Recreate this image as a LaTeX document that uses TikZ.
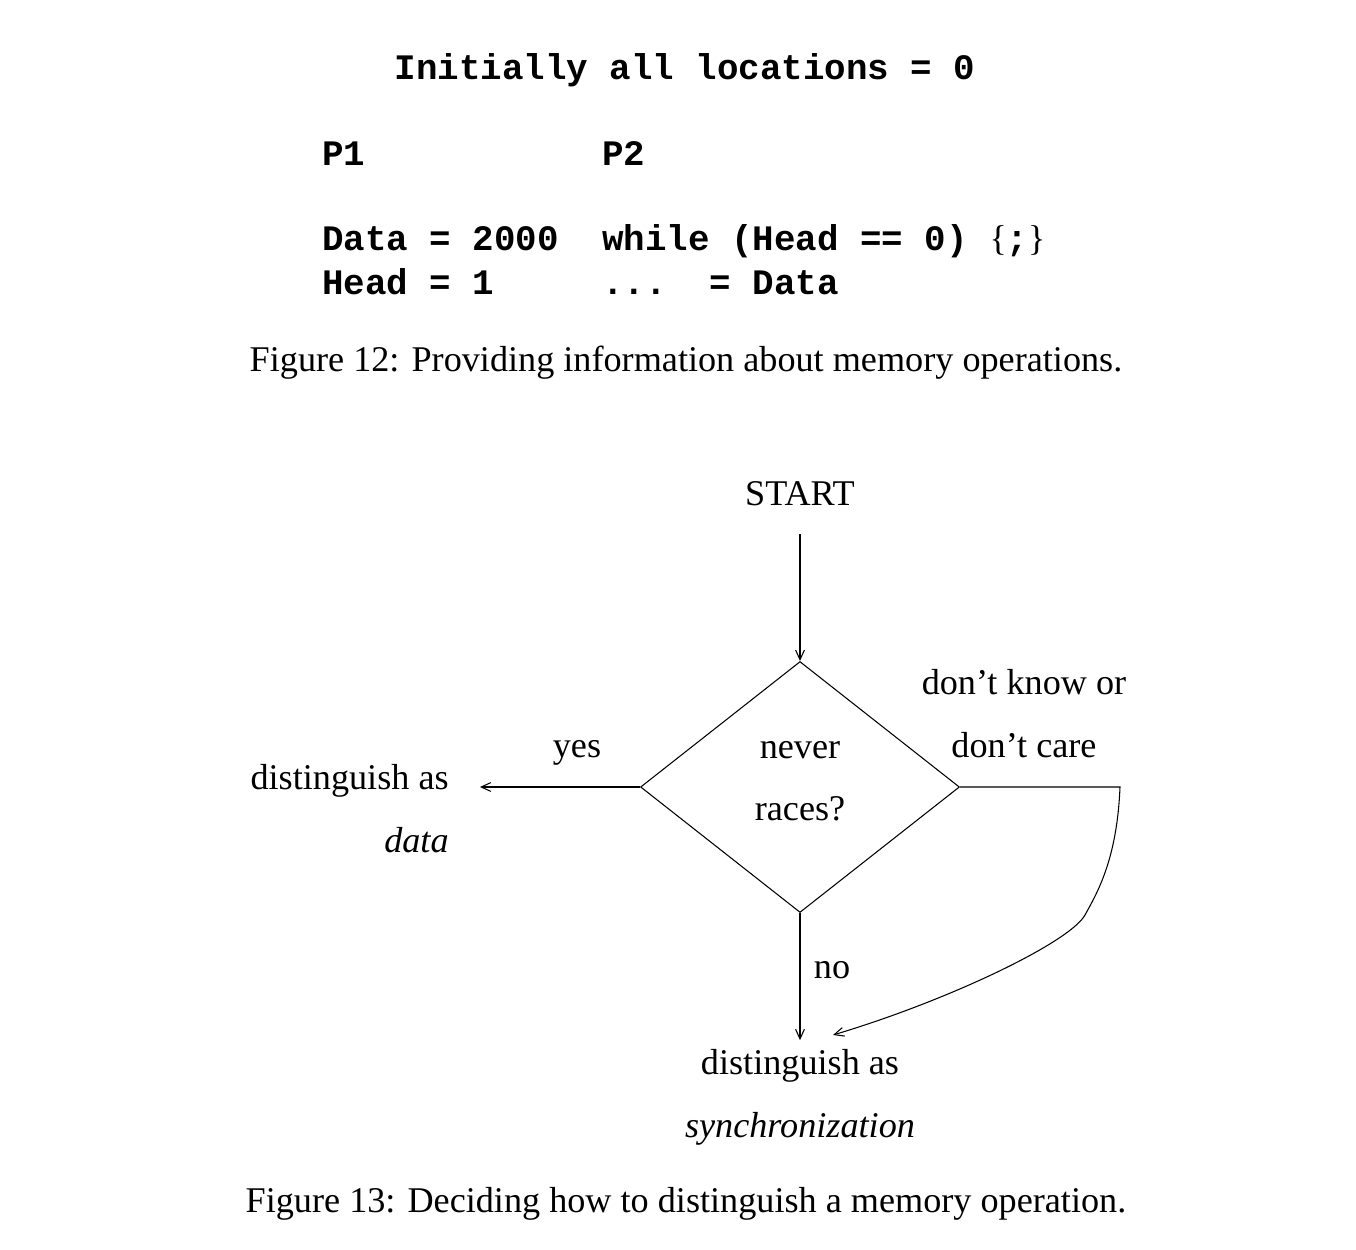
\documentclass[tikz,border=0pt]{standalone}
\usepackage{fontspec}
\setmainfont{Liberation Serif}
\setmonofont{Liberation Mono}
\usepackage{tikz}
\usetikzlibrary{shapes.geometric,arrows.meta}

\begin{document}
\begin{tikzpicture}
[
	x=0.02cm, y=-0.02cm,
	txt/.style={anchor=base, inner sep=0pt, font=\fontsize{20.6}{35.7}\selectfont},
	code/.style={anchor=base west, inner sep=0pt, font=\fontsize{20.4}{24}\selectfont\ttfamily\bfseries},
	flow/.style={line width=0.6pt, -{Straight Barb[length=5.5pt,width=5pt]}},
	decision/.style={draw, diamond, line width=0.6pt, inner sep=0pt, minimum width=6.38cm, minimum height=5.02cm, align=center, font=\fontsize{20.6}{35.7}\selectfont}
]

\useasboundingbox (0,0) rectangle (1356,1250);

% Draw program of figure 12
\node[code, anchor=base] (init) at (685,80) {Initially all locations = 0};
\node[code] (p1) at (322,166) {P1};
\node[code] (p2) at (602,166) {P2};
\node[code] (writedata) at (322,251) {Data = 2000};
\node[code] (writehead) at (322,295) {Head = 1};
\node[code] (spin) at (602,251) {while (Head == 0) {\normalfont\{};{\normalfont\}}};
\node[code] (readdata) at (602,295) {...\ \ = Data};

% Draw captions
\node[txt] (cap12) at (686,371) {Figure 12: Providing information about memory operations.};
\node[txt] (cap13) at (686,1212) {Figure 13: Deciding how to distinguish a memory operation.};

% Draw flowchart nodes
\node[txt] (start) at (800,505) {START};
\node[decision] (race) at (800,787) {never\\races?\rule[-6.8pt]{0pt}{0pt}};
\node[txt, anchor=north east, align=right] (data) at (449,764) {distinguish as\\\textit{data}};
\node[txt, anchor=north, align=center] (sync) at (800,1049) {distinguish as\\\textit{synchronization}};

% Draw edge labels
\node[txt] (yes) at (577,757) {yes};
\node[txt] (no) at (832,978) {no};
\node[txt, anchor=north, align=center] (dontknow) at (1024,669) {don't know or\\don't care};

% Draw connectors
\draw[flow, shorten <=16pt] (start.south) -- (race.north);
\draw[flow, shorten >=17.6pt] (race.west) -- (race.west -| data.east);
\draw[flow, shorten >=5pt] (race.south) -- (sync.north);
\draw[flow] (race.east) -- ++(160,0) .. controls (1117,860) and (1097,893) .. (1085,915)
	.. controls (1070,942) and (950,1000) .. ([shift={(33,-14)}]sync.north);

\end{tikzpicture}
\end{document}
